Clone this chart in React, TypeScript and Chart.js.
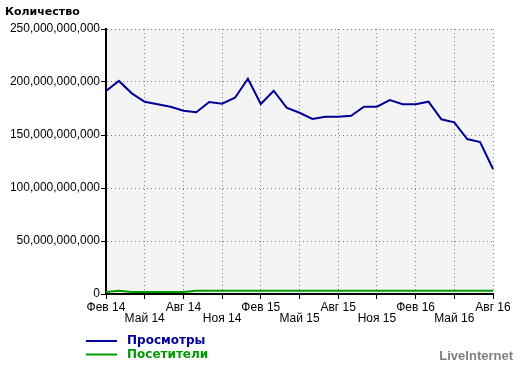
import React, { useEffect, useRef } from 'react';
import { Chart, registerables } from 'chart.js';

Chart.register(...registerables);

const months = [
  'Фев 14', 'Мар 14', 'Апр 14', 'Май 14', 'Июн 14', 'Июл 14', 'Авг 14', 'Сен 14', 'Окт 14', 'Ноя 14', 'Дек 14',
  'Янв 15', 'Фев 15', 'Мар 15', 'Апр 15', 'Май 15', 'Июн 15', 'Июл 15', 'Авг 15', 'Сен 15', 'Окт 15', 'Ноя 15', 'Дек 15',
  'Янв 16', 'Фев 16', 'Мар 16', 'Апр 16', 'Май 16', 'Июн 16', 'Июл 16', 'Авг 16',
];

const views = [
  191.5e9, 201e9, 189.3e9, 181.4e9, 179e9, 176.7e9, 172.9e9, 171.4e9, 181.1e9, 179.5e9, 185.2e9,
  203.1e9, 179.2e9, 191.8e9, 175.8e9, 171e9, 165.1e9, 167.3e9, 167.3e9, 168.2e9, 176.7e9, 176.7e9, 183e9,
  179e9, 179e9, 181.4e9, 164.8e9, 162e9, 146.2e9, 143.4e9, 117.9e9,
];

const visitors = [
  1.8e9, 3.0e9, 1.8e9, 1.8e9, 1.8e9, 1.8e9, 1.8e9, 3.0e9, 3.0e9, 3.0e9, 3.0e9,
  3.0e9, 3.0e9, 3.0e9, 3.0e9, 3.0e9, 3.0e9, 3.0e9, 3.0e9, 3.0e9, 3.0e9, 3.0e9, 3.0e9,
  3.0e9, 3.0e9, 3.0e9, 3.0e9, 3.0e9, 3.0e9, 3.0e9, 3.0e9,
];

const seriesNames = ['Просмотры', 'Посетители'];
const seriesColors = ['#000099', '#009900'];
const yMax = 250e9;
const yStep = 50e9;
const tickEvery = 3;
const yTitle = 'Количество';
const brand = 'LiveInternet';

export default function App() {
  const ref = useRef<HTMLCanvasElement>(null);

  useEffect(() => {
    document.body.style.margin = '0';
    if (!ref.current) return;

    const bgPlugin = {
      id: 'bgArea',
      beforeDraw(chart: any) {
        const { ctx, chartArea: a } = chart;
        ctx.save();
        ctx.fillStyle = '#f4f4f4';
        ctx.fillRect(a.left, a.top, a.right - a.left, a.bottom - a.top);
        ctx.restore();
      },
    };

    const decoPlugin = {
      id: 'deco',
      afterDraw(chart: any) {
        const { ctx } = chart;
        ctx.save();
        ctx.textBaseline = 'middle';
        ctx.textAlign = 'left';
        ctx.font = 'bold 11px "DejaVu Sans"';
        ctx.fillStyle = '#000';
        ctx.fillText(yTitle, 5, 12);
        chart.data.datasets.forEach((ds: any, i: number) => {
          const y = 341 + i * 13.5;
          ctx.strokeStyle = ds.borderColor;
          ctx.lineWidth = 2;
          ctx.beginPath();
          ctx.moveTo(86, y);
          ctx.lineTo(117, y);
          ctx.stroke();
          ctx.fillStyle = ds.borderColor;
          ctx.font = 'bold 12px "DejaVu Sans"';
          ctx.fillText(ds.label, 127, y);
        });
        ctx.font = 'bold 13px "Liberation Sans"';
        ctx.fillStyle = '#808080';
        ctx.textAlign = 'right';
        ctx.fillText(brand, 513, 356);
        ctx.restore();
      },
    };

    const tickFont = { family: '"Liberation Sans", Arial, sans-serif', size: 12 };

    const chart = new Chart(ref.current, {
      type: 'line',
      data: {
        labels: months,
        datasets: [
          { label: seriesNames[0], data: views, borderColor: seriesColors[0], backgroundColor: seriesColors[0], borderWidth: 2, pointRadius: 0, tension: 0, fill: false },
          { label: seriesNames[1], data: visitors, borderColor: seriesColors[1], backgroundColor: seriesColors[1], borderWidth: 2, pointRadius: 0, tension: 0, fill: false },
        ],
      },
      options: {
        animation: false,
        responsive: false,
        layout: { padding: { top: 29, right: 27, left: 0, bottom: 0 } },
        plugins: { legend: { display: false }, tooltip: { enabled: false } },
        scales: {
          x: {
            type: 'category',
            grid: {
              color: (c: any) => (c.index % tickEvery === 0 ? '#808080' : 'transparent'),
              tickColor: (c: any) => (c.index % tickEvery === 0 ? '#000' : 'transparent'),
              tickLength: 5,
              tickWidth: 1,
              tickBorderDash: [10, 0],
              lineWidth: 1,
            },
            border: { display: true, color: '#000', width: 2, dash: [1, 3] },
            ticks: {
              autoSkip: false,
              maxRotation: 0,
              minRotation: 0,
              padding: 3,
              color: '#000',
              font: { ...tickFont, lineHeight: 0.92 },
              callback: (_v: any, i: number) => {
                if (i % tickEvery !== 0) return '';
                return (i / tickEvery) % 2 === 0 ? months[i] : ['', months[i]];
              },
            },
            afterFit: (s: any) => {
              s.height = 72;
            },
          },
          y: {
            min: 0,
            max: yMax,
            grid: {
              color: '#808080',
              tickColor: '#000',
              tickLength: 5,
              tickWidth: 1,
              tickBorderDash: [10, 0],
              lineWidth: 1,
            },
            border: { display: true, color: '#000', width: 2, dash: [1, 3] },
            ticks: {
              stepSize: yStep,
              padding: 1,
              color: '#000',
              font: tickFont,
              callback: (v: any) => Number(v).toLocaleString('en-US'),
            },
            afterFit: (s: any) => {
              s.width = 106;
            },
          },
        },
      },
      plugins: [bgPlugin, decoPlugin],
    } as any);

    return () => chart.destroy();
  }, []);

  return (
    <div style={{ width: 520, height: 366 }}>
      <canvas ref={ref} width={520} height={366} />
    </div>
  );
}
